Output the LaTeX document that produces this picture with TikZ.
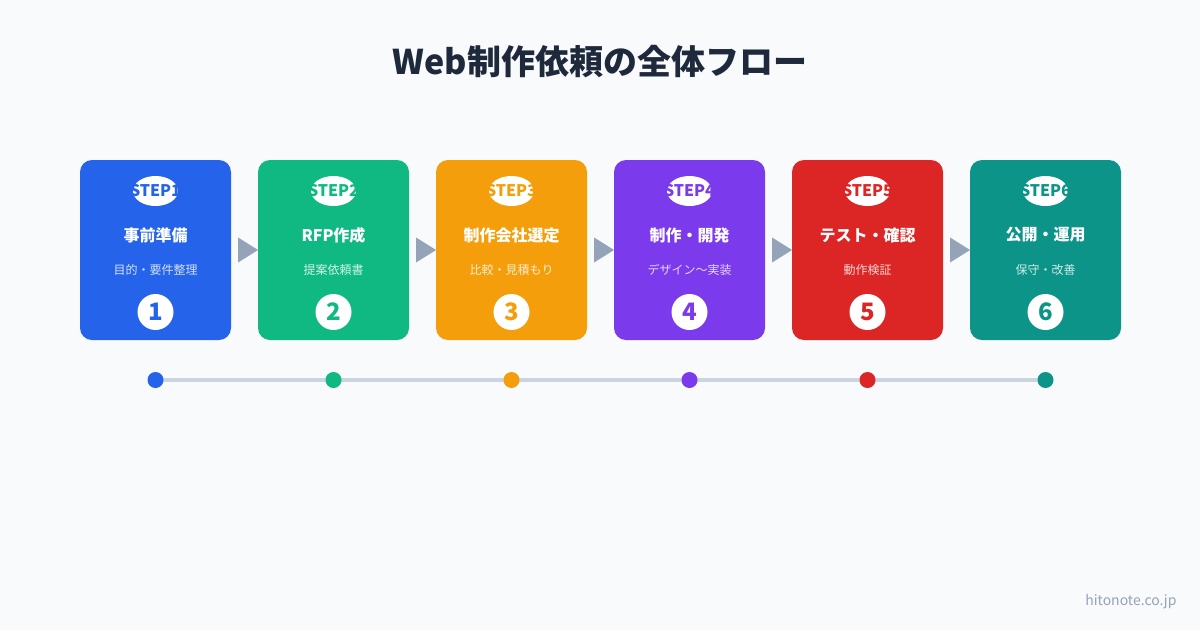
\documentclass[tikz,border=0pt]{standalone}
\usepackage{fontspec}
\setmainfont{Noto Sans CJK JP}
\usetikzlibrary{positioning,shapes,backgrounds}

\definecolor{bgc}{HTML}{F8FAFC}
\definecolor{ink}{HTML}{1E293B}
\definecolor{arrowc}{HTML}{94A3B8}
\definecolor{linec}{HTML}{CBD5E1}
\definecolor{cblue}{HTML}{2563EB}
\definecolor{cgreen}{HTML}{10B981}
\definecolor{camber}{HTML}{F59E0B}
\definecolor{cpurple}{HTML}{7C3AED}
\definecolor{cred}{HTML}{DC2626}
\definecolor{cteal}{HTML}{0D9488}

\begin{document}
\begin{tikzpicture}[x=1pt,y=-1pt,
  card/.style={rectangle,rounded corners=12pt,minimum width=151pt,minimum height=180pt,inner sep=0pt},
  tag/.style={ellipse,fill=white,minimum width=45pt,minimum height=30pt,inner sep=0pt},
  tagtext/.style={inner sep=0pt,font=\bfseries\fontsize{16}{18}\selectfont},
  head/.style={text=white,font=\bfseries\fontsize{16}{19}\selectfont},
  sub/.style={text=white,text opacity=0.8,font=\fontsize{12}{14}\selectfont},
  num/.style={circle,fill=white,minimum size=36pt,inner sep=0pt,font=\bfseries\fontsize{24}{26}\selectfont},
  dot/.style={circle,minimum size=16pt,inner sep=0pt},
  pointer/.style={isosceles triangle,isosceles triangle stretches,fill=arrowc,minimum height=20pt,minimum width=25pt,inner sep=0pt}]
  \useasboundingbox (0,0) rectangle (1200,630);
  \begin{scope}[on background layer]
    \fill[bgc] (0,0) rectangle (1200,630);
  \end{scope}

  \node[text=ink,font=\bfseries\fontsize{34}{40}\selectfont] (title) at (600,62) {Web制作依頼の全体フロー};

  \foreach \i/\c/\h/\s in {1/cblue/事前準備/目的・要件整理,
      2/cgreen/RFP作成/提案依頼書,
      3/camber/制作会社選定/比較・見積もり,
      4/cpurple/制作・開発/デザイン〜実装,
      5/cred/テスト・確認/動作検証,
      6/cteal/公開・運用/保守・改善} {
    \node[card,fill=\c] (box\i) at ({155.5+178*(\i-1)},250) {};
    \node[tag] (tag\i) at ({155.5+178*(\i-1)},191) {};
    \node[tagtext,text=\c] (steplbl\i) at (tag\i) {STEP\i};
    \node[head] (head\i) at ({155.5+178*(\i-1)},235) {\h};
    \node[sub] (sub\i) at ({155.5+178*(\i-1)},270) {\s};
    \node[num,text=\c] (num\i) at ({155.5+178*(\i-1)},312) {\i};
    \node[dot,fill=\c] (dot\i) at ({155.5+178*(\i-1)},380) {};
  }

  % arrows between the cards
  \foreach \i in {1,...,5}
    \node[pointer] (arr\i) at ({245+178*(\i-1)},250) {};

  % timeline
  \begin{scope}[on background layer]
    \draw[linec,line width=4pt] (dot1.center) -- (dot6.center);
  \end{scope}

  \node[text=arrowc,font=\fontsize{14}{16}\selectfont,anchor=east] (site) at (1180,602) {hitonote.co.jp};
\end{tikzpicture}
\end{document}
